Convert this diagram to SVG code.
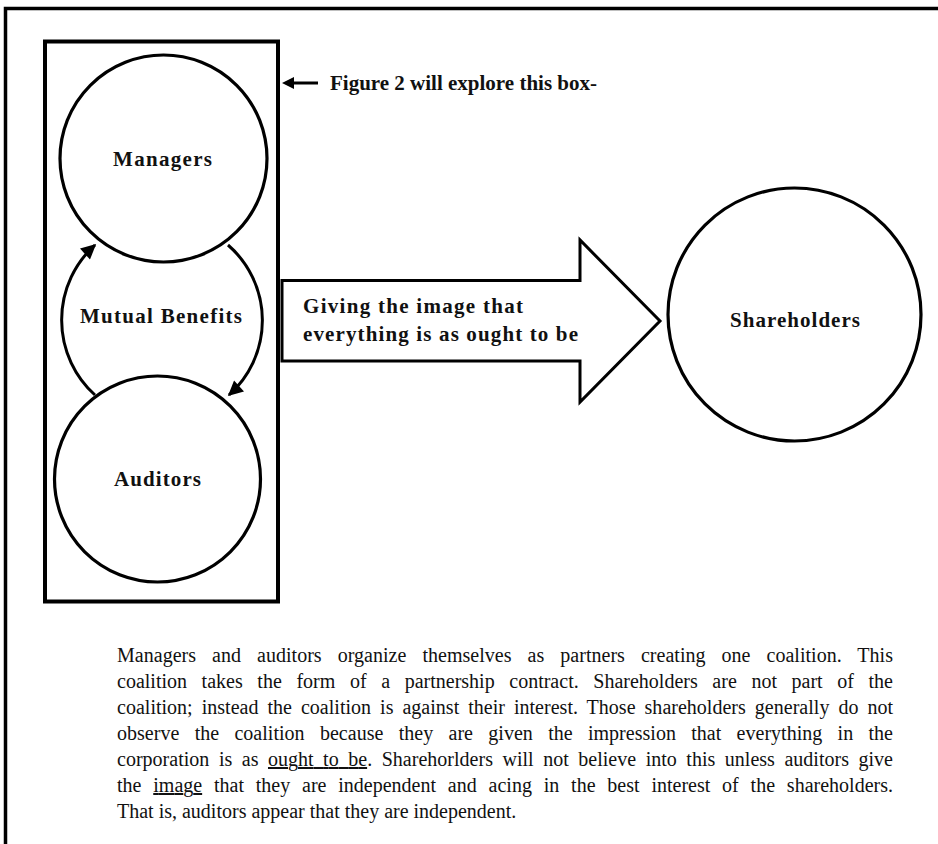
<svg xmlns="http://www.w3.org/2000/svg" width="938" height="844" viewBox="0 0 938 844">
<style>
.lbl{font-family:"Liberation Serif","Times New Roman",serif;font-weight:bold;font-size:21px;fill:#111}
.para{font-family:"Liberation Serif","Times New Roman",serif;font-size:20px;fill:#111}
.ln{fill:none;stroke:#000;stroke-width:3}
.node{fill:#fff;stroke:#000;stroke-width:3.2}
</style>
<defs>
<marker id="ah" viewBox="0 0 10 10" refX="9" refY="5" markerWidth="5.5" markerHeight="5" markerUnits="strokeWidth" orient="auto">
<path d="M0,0 L10,5 L0,10 z" fill="#000"/>
</marker>
</defs>
<rect width="938" height="844" fill="#fff"/>
<g id="frame">
<path d="M5.5,844 V8.5 H938" fill="none" stroke="#000" stroke-width="3.5"/>
</g>
<g id="coalition-box">
<rect x="45" y="41.5" width="233" height="560" fill="none" stroke="#000" stroke-width="4"/>
</g>
<g id="managers">
<circle class="node" cx="163.5" cy="158.5" r="103.5"/>
<text class="lbl" x="113" y="166" textLength="99" lengthAdjust="spacing">Managers</text>
</g>
<g id="auditors">
<circle class="node" cx="157.5" cy="479" r="103"/>
<text class="lbl" x="114" y="486" textLength="87" lengthAdjust="spacing">Auditors</text>
</g>
<g id="shareholders">
<circle class="node" cx="794.5" cy="314.5" r="126.5"/>
<text class="lbl" x="730" y="327" textLength="130" lengthAdjust="spacing">Shareholders</text>
</g>
<g id="connectors">
<path class="ln" d="M95,395 A101,101 0 0 1 95,245" marker-end="url(#ah)"/>
<path class="ln" d="M228,245 A100,100 0 0 1 229,395" marker-end="url(#ah)"/>
<polygon points="282,280.5 580,280.5 580,240 660,321 580,402 580,361 282,361" fill="#fff" stroke="#000" stroke-width="3" stroke-linejoin="miter"/>
<path class="ln" d="M318,83 H292"/>
<polygon points="282,83 294,77 294,89" fill="#000"/>
</g>
<g id="mutual-benefits">
<text class="lbl" x="80" y="323" textLength="162" lengthAdjust="spacing">Mutual Benefits</text>
</g>
<g id="arrow-label">
<text class="lbl" x="303" y="313" textLength="220" lengthAdjust="spacing">Giving the image that</text>
<text class="lbl" x="303" y="341" textLength="275" lengthAdjust="spacing">everything is as ought to be</text>
</g>
<g id="figure-note">
<text class="lbl" x="330" y="90" textLength="267" lengthAdjust="spacing">Figure 2 will explore this box-</text>
</g>
<g id="paragraph">
<text class="para" x="117" y="662" word-spacing="11" textLength="776" lengthAdjust="spacing">Managers and auditors organize themselves as partners creating one coalition. This</text>
<text class="para" x="117" y="688" word-spacing="9.6" textLength="776" lengthAdjust="spacing">coalition takes the form of a partnership contract. Shareholders are not part of the</text>
<text class="para" x="117" y="714" word-spacing="4" textLength="776" lengthAdjust="spacing">coalition; instead the coalition is against their interest. Those shareholders generally do not</text>
<text class="para" x="117" y="740" word-spacing="10.3" textLength="776" lengthAdjust="spacing">observe the coalition because they are given the impression that everything in the</text>
<text class="para" x="117" y="766" word-spacing="4.5" textLength="776" lengthAdjust="spacing">corporation is as <tspan text-decoration="underline">ought to be</tspan>. Sharehorlders will not believe into this unless auditors give</text>
<text class="para" x="117" y="792" word-spacing="6.8" textLength="776" lengthAdjust="spacing">the <tspan text-decoration="underline">image</tspan> that they are independent and acing in the best interest of the shareholders.</text>
<text class="para" x="117" y="817.5">That is, auditors appear that they are independent.</text>
</g>
</svg>
